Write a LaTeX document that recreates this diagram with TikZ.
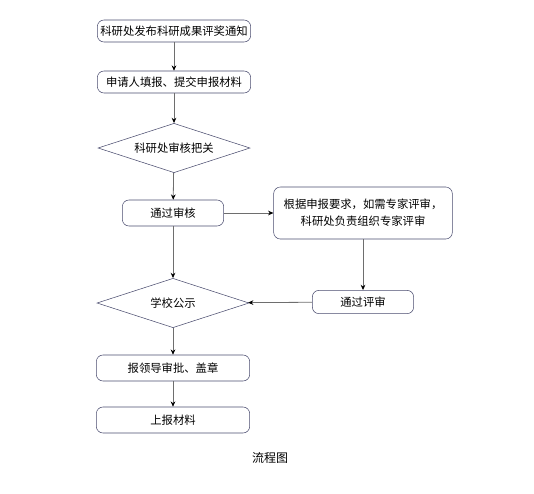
\documentclass[tikz,border=0pt]{standalone}
\usepackage{fontspec}
\setmainfont{Noto Sans CJK SC}
\usetikzlibrary{shapes.geometric,arrows.meta}
\definecolor{boxline}{HTML}{4A4C6E}
\definecolor{arrowline}{HTML}{6E6E6E}
\tikzset{
  stepbox/.style={draw=boxline, rounded corners=5pt, minimum height=19.5pt, align=center, inner sep=2pt},
  checkbox/.style={draw=boxline, diamond, aspect=3, minimum width=114pt, minimum height=37pt, inner sep=0pt},
  flow/.style={draw=arrowline, semithick, -{Stealth[length=4pt,width=3.5pt,black]}}
}
\begin{document}
\begin{tikzpicture}[x=0.75pt, y=-0.75pt, font=\fontsize{8.5}{13}\selectfont]
  \useasboundingbox (0,0) rectangle (534,493);

  % main column
  \node[stepbox, minimum width=115pt, minimum height=16.5pt] (notice) at (174,31) {科研处发布科研成果评奖通知};
  \node[stepbox, minimum width=115pt, minimum height=16.5pt] (apply) at (174,82) {申请人填报、提交申报材料};
  \node[checkbox] (check) at (174,148) {科研处审核把关};
  \node[stepbox, minimum width=76pt] (pass) at (173,213) {通过审核};
  \node[checkbox] (public) at (173,303) {学校公示};
  \node[stepbox, minimum width=115pt] (sign) at (173,368) {报领导审批、盖章};
  \node[stepbox, minimum width=115pt] (submit) at (173,420) {上报材料};

  % side branch
  \node[stepbox, minimum width=134pt, minimum height=39pt] (expert) at (363,213) {根据申报要求，如需专家评审，\\科研处负责组织专家评审};
  \node[stepbox, minimum width=76pt, minimum height=17.5pt] (review) at (363,302) {通过评审};

  \draw[flow] (notice) -- (apply);
  \draw[flow] (apply) -- (check);
  \draw[flow] (check) -- (pass);
  \draw[flow] (pass) -- (public);
  \draw[flow] (public) -- (sign);
  \draw[flow] (sign) -- (submit);
  \draw[flow] (pass) -- (expert);
  \draw[flow] (expert) -- (review);
  \draw[flow] (review) -- (public);

  % caption
  \node[font=\fontsize{9}{13}\selectfont] (caption) at (270,458) {流程图};
\end{tikzpicture}
\end{document}
